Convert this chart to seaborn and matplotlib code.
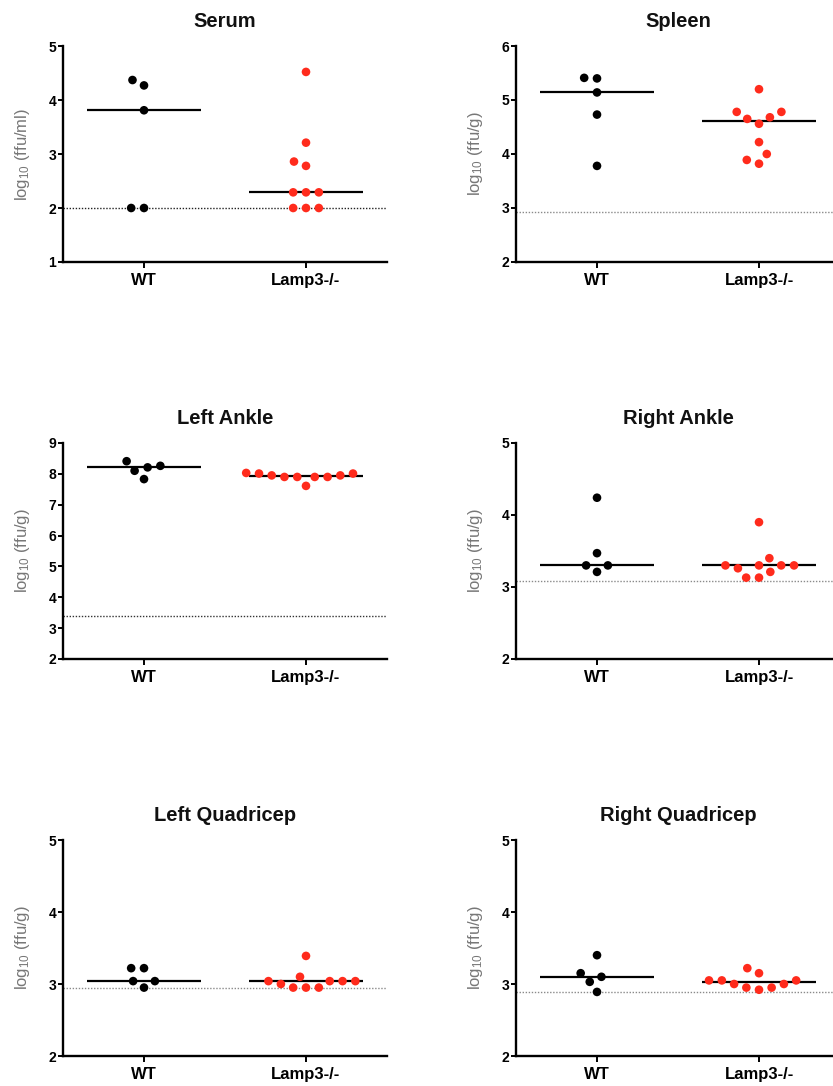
import numpy as np
import pandas as pd
import matplotlib
matplotlib.use("Agg")
import matplotlib.pyplot as plt
import seaborn as sns

# ---------------- data ----------------
groups = ["WT", "Lamp3-/-"]
titles = ["Serum", "Spleen", "Left Ankle", "Right Ankle", "Left Quadricep", "Right Quadricep"]
ylabels = [r"log$_{10}$ (ffu/ml)"] + [r"log$_{10}$ (ffu/g)"] * 5

serum_wt = [4.27, 4.37, 3.81, 2.00, 2.00]
serum_ko = [4.52, 3.21, 2.78, 2.86, 2.29, 2.29, 2.29, 2.00, 2.00, 2.00]
spleen_wt = [5.41, 5.40, 5.14, 4.73, 3.78]
spleen_ko = [5.20, 4.78, 4.78, 4.68, 4.65, 4.56, 4.22, 4.00, 3.89, 3.82]
lankle_wt = [8.21, 8.41, 8.10, 8.26, 7.83]
lankle_ko = [8.03, 7.95, 7.90, 7.90, 7.61, 7.90, 7.90, 7.95, 8.01, 8.01]
rankle_wt = [4.24, 3.47, 3.30, 3.30, 3.21]
rankle_ko = [3.30, 3.30, 3.21, 3.13, 3.90, 3.40, 3.13, 3.26, 3.30, 3.30]
lquad_wt = [3.22, 3.22, 3.04, 3.04, 2.95]
lquad_ko = [3.10, 3.04, 3.04, 2.95, 3.39, 2.95, 2.95, 3.00, 3.04, 3.04]
rquad_wt = [3.40, 3.15, 3.10, 3.03, 2.89]
rquad_ko = [3.05, 3.00, 2.95, 2.92, 3.22, 3.15, 2.95, 3.00, 3.05, 3.05]

detection_limits = [2.00, 2.93, 3.38, 3.08, 2.95, 2.89]
y_ranges = [(1, 5), (2, 6), (2, 9), (2, 5), (2, 5), (2, 5)]

panel_values = [
    (serum_wt, serum_ko), (spleen_wt, spleen_ko),
    (lankle_wt, lankle_ko), (rankle_wt, rankle_ko),
    (lquad_wt, lquad_ko), (rquad_wt, rquad_ko),
]

# ---------------- style ----------------
sns.set_theme(style="ticks")
plt.rcParams["font.family"] = ["Liberation Sans", "DejaVu Sans"]
plt.rcParams["mathtext.default"] = "regular"

colors = {"WT": "#000000", "Lamp3-/-": "#FF2B1C"}
lod_colors = ["#222222", "#8a8a8a", "#333333", "#8a8a8a", "#8a8a8a", "#8a8a8a"]

W, H = 833, 1086
fig = plt.figure(figsize=(W / 100, H / 100), dpi=100)

col_x = [63, 516]
row_top = [46, 443, 840]
ax_w, ax_h = 324, 216

for i, (title, ylab, (wt, ko), lod, yr) in enumerate(
        zip(titles, ylabels, panel_values, detection_limits, y_ranges)):
    r, c = divmod(i, 2)
    x0 = col_x[c]
    top = row_top[r]
    ax = fig.add_axes([x0 / W, 1 - (top + ax_h) / H, ax_w / W, ax_h / H])

    df = pd.DataFrame({
        "group": [groups[0]] * len(wt) + [groups[1]] * len(ko),
        "value": list(wt) + list(ko),
    })

    ax.axhline(lod, color=lod_colors[i], lw=1.0, ls=(0, (1, 1.2)), zorder=1)
    for j, g in enumerate(groups):
        med = np.median(df.loc[df.group == g, "value"])
        ax.hlines(med, j - 0.35, j + 0.35, color="black", lw=1.6, zorder=2)

    sns.swarmplot(data=df, x="group", y="value", hue="group", order=groups,
                  palette=colors, legend=False, size=6.2, linewidth=2.6,
                  edgecolor="none", ax=ax, zorder=3)

    ax.set_xlim(-0.5, 1.5)
    ax.set_ylim(*yr)
    ax.set_yticks(np.arange(yr[0], yr[1] + 1))
    ax.set_xlabel("")
    ax.set_ylabel(ylab, color="#777777", fontsize=12)
    ax.yaxis.set_label_coords(-0.097, 0.5)
    ax.set_title(title, fontsize=14.5, fontweight="bold", pad=14, color="#111111")

    for s in ["top", "right"]:
        ax.spines[s].set_visible(False)
    for s in ["left", "bottom"]:
        ax.spines[s].set_linewidth(1.7)
        ax.spines[s].set_color("black")
    ax.tick_params(axis="y", length=3.5, width=1.4, pad=1.5, labelsize=10, colors="black")
    ax.tick_params(axis="x", length=4, width=1.4, pad=4, labelsize=12, colors="black")
    for lbl in ax.get_xticklabels() + ax.get_yticklabels():
        lbl.set_fontweight("bold")
    ax.set_facecolor("white")

fig.savefig("out.png", dpi=100, facecolor="white")
